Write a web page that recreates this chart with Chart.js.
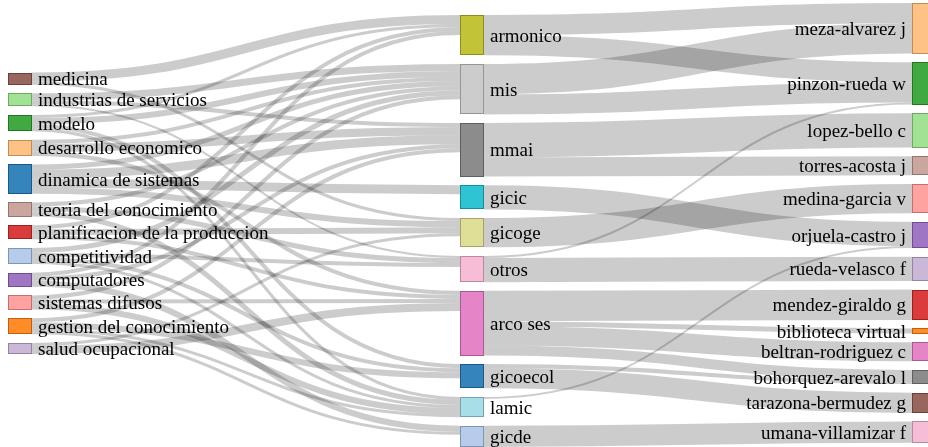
<!DOCTYPE html>
<html>
<head>
<meta charset="utf-8">
<script src="https://cdn.jsdelivr.net/npm/chart.js@4.4.1/dist/chart.umd.min.js"></script>
<style>
  html,body{margin:0;padding:0;background:#fff;}
  #wrap{width:928px;height:447px;overflow:hidden;}
</style>
</head>
<body>
<div id="wrap"><canvas id="sankey" width="928" height="447"></canvas></div>
<script>
/*
  sankey temas -> grupos -> autores
  dibujado con un plugin sobre las escalas de Chart.js
*/

// nodos por columna (en el orden de la figura)
const temas = ["medicina","industrias de servicios","modelo","desarrollo economico","dinamica de sistemas",
  "teoria del conocimiento","planificacion de la produccion","competitividad","computadores",
  "sistemas difusos","gestion del conocimiento","salud ocupacional"];
const grupos = ["armonico","mis","mmai","gicic","gicoge","otros","arco ses","gicoecol","lamic","gicde"];
const autores = ["meza-alvarez j","pinzon-rueda w","lopez-bello c","torres-acosta j","medina-garcia v",
  "orjuela-castro j","rueda-velasco f","mendez-giraldo g","biblioteca virtual","beltran-rodriguez c",
  "bohorquez-arevalo l","tarazona-bermudez g","umana-villamizar f"];

// flujos [origen, destino, valor]
const temaGrupo = [
  ["medicina","armonico",9],["medicina","gicoge",3],
  ["industrias de servicios","mis",7],["industrias de servicios","mmai",4],["industrias de servicios","otros",2],
  ["modelo","mis",6],["modelo","armonico",3],["modelo","gicoecol",4],["modelo","lamic",3],
  ["desarrollo economico","mmai",8],["desarrollo economico","mis",4],["desarrollo economico","arco ses",4],
  ["dinamica de sistemas","mmai",9],["dinamica de sistemas","gicic",9],["dinamica de sistemas","gicoge",6],["dinamica de sistemas","mis",5],
  ["teoria del conocimiento","mis",4],["teoria del conocimiento","otros",5],["teoria del conocimiento","lamic",5],
  ["planificacion de la produccion","armonico",4],["planificacion de la produccion","gicoge",6],["planificacion de la produccion","arco ses",4],
  ["competitividad","mis",5],["competitividad","otros",4],["competitividad","gicoecol",4],["competitividad","lamic",3],
  ["computadores","armonico",4],["computadores","mmai",4],["computadores","gicde",6],
  ["sistemas difusos","mis",4],["sistemas difusos","arco ses",4],["sistemas difusos","lamic",6],
  ["gestion del conocimiento","mmai",4],["gestion del conocimiento","gicoecol",6],["gestion del conocimiento","lamic",3],["gestion del conocimiento","gicde",3],
  ["salud ocupacional","arco ses",8],["salud ocupacional","gicoge",3]
];
const grupoAutor = [
  ["armonico","meza-alvarez j",20],["armonico","pinzon-rueda w",20],
  ["mis","meza-alvarez j",30],["mis","pinzon-rueda w",20],
  ["mmai","lopez-bello c",34],["mmai","torres-acosta j",19],
  ["gicic","orjuela-castro j",24],
  ["gicoge","medina-garcia v",29],
  ["otros","rueda-velasco f",24],["otros","pinzon-rueda w",2],
  ["arco ses","mendez-giraldo g",30],["arco ses","biblioteca virtual",5],["arco ses","beltran-rodriguez c",19],["arco ses","bohorquez-arevalo l",10],
  ["gicoecol","bohorquez-arevalo l",4],["gicoecol","tarazona-bermudez g",20],
  ["lamic","orjuela-castro j",2],
  ["gicde","umana-villamizar f",21]
];

// colores (category20)
const coloresTemas = ["#8c564b","#98df8a","#2ca02c","#ffbb78","#1f77b4","#c49c94","#d62728","#aec7e8","#9467bd","#ff9896","#ff7f0e","#c5b0d5"];
const coloresGrupos = ["#bcbd22","#c7c7c7","#7f7f7f","#17becf","#dbdb8d","#f7b6d2","#e377c2","#1f77b4","#9edae5","#aec7e8"];
const coloresAutores = ["#ffbb78","#2ca02c","#98df8a","#c49c94","#ff9896","#9467bd","#c5b0d5","#d62728","#ff7f0e","#e377c2","#7f7f7f","#8c564b","#f7b6d2"];

const NODE_W = 24;     // px
const PAD = 8.5;       // separacion entre nodos (unidades de valor)
const FONT = '19px "Liberation Serif", "Times New Roman", serif';

const center = n => (n.y0 + n.y1) / 2;

function stack(c, y){
  c.forEach(n=>{ n.y0 = y; n.y1 = y + n.value; y = n.y1 + PAD; });
}

function linkOffsets(nodos){
  nodos.forEach(n=>{
    n.src.sort((a,b)=>a.t.y0-b.t.y0);
    let o = n.y0;
    n.src.forEach(l=>{ l.sy = o; o += l.v; });
    n.tgt.sort((a,b)=>a.s.y0-b.s.y0);
    o = n.y0;
    n.tgt.forEach(l=>{ l.ty = o; o += l.v; });
  });
}

function layout(){
  const columnas = [temas, grupos, autores];
  const colores = [coloresTemas, coloresGrupos, coloresAutores];
  const nodos = new Map();
  columnas.forEach((nombres,col)=>{
    nombres.forEach((n,i)=>nodos.set(n,{name:n,col,color:colores[col][i],inV:0,outV:0,src:[],tgt:[]}));
  });
  const links = temaGrupo.concat(grupoAutor).map(([s,t,v])=>{
    const a = nodos.get(s), b = nodos.get(t);
    const l = {s:a,t:b,v};
    a.outV += v; b.inV += v;
    a.src.push(l); b.tgt.push(l);
    return l;
  });
  nodos.forEach(n=>n.value = Math.max(n.inV,n.outV));

  const cols = columnas.map(nombres=>nombres.map(n=>nodos.get(n)));
  const spans = cols.map(c=>c.reduce((acc,n)=>acc+n.value,0) + (c.length-1)*PAD);
  const total = Math.max(...spans);
  const yMax = total + PAD/2;

  // autores arriba, grupos apoyados abajo
  stack(cols[2], 0);
  stack(cols[1], yMax - spans[1]);
  stack(cols[0], 0);
  linkOffsets(nodos);

  // temas: desplazar el bloque para que los enlaces queden rectos en promedio
  let w = 0, d = 0;
  links.filter(l=>l.s.col === 0).forEach(l=>{ w += l.v; d += l.v*(l.ty - l.sy); });
  const shift = Math.min(Math.max(d/w, 0), yMax - spans[0]);
  stack(cols[0], shift);
  linkOffsets(nodos);

  return {nodes:[...nodos.values()], links, yMax};
}

const LAYOUT = layout();

function darker(hex,k){
  const r = parseInt(hex.slice(1,3),16), g = parseInt(hex.slice(3,5),16), b = parseInt(hex.slice(5,7),16);
  return `rgb(${Math.round(r*k)},${Math.round(g*k)},${Math.round(b*k)})`;
}
function withAlpha(hex,a){
  const r = parseInt(hex.slice(1,3),16), g = parseInt(hex.slice(3,5),16), b = parseInt(hex.slice(5,7),16);
  return `rgba(${r},${g},${b},${a})`;
}

const sankeyPlugin = {
  id:"sankey",
  afterDatasetsDraw(chart){
    const {ctx} = chart;
    const xs = chart.scales.x, ys = chart.scales.y;
    const py = v => ys.getPixelForValue(v);
    const unit = Math.abs(py(1) - py(0));

    ctx.save();
    // enlaces
    ctx.strokeStyle = "rgba(0,0,0,0.2)";
    LAYOUT.links.forEach(l=>{
      const x0 = xs.getPixelForValue(l.s.col) + NODE_W;
      const x1 = xs.getPixelForValue(l.t.col);
      const xm = (x0 + x1) / 2;
      const y0 = py(l.sy + l.v/2);
      const y1 = py(l.ty + l.v/2);
      ctx.lineWidth = Math.max(1, l.v*unit);
      ctx.beginPath();
      ctx.moveTo(x0,y0);
      ctx.bezierCurveTo(xm,y0,xm,y1,x1,y1);
      ctx.stroke();
    });

    // nodos
    LAYOUT.nodes.forEach(n=>{
      const x = Math.round(xs.getPixelForValue(n.col));
      const top = Math.round(py(n.y0));
      const h = Math.max(1, Math.round(py(n.y1)) - top);
      ctx.fillStyle = withAlpha(n.color,0.9);
      ctx.fillRect(x,top,NODE_W,h);
      ctx.strokeStyle = darker(n.color,0.75);
      ctx.lineWidth = 1;
      ctx.strokeRect(x+0.5,top+0.5,NODE_W-1,h-1);
    });

    // etiquetas
    ctx.font = FONT;
    ctx.fillStyle = "#000";
    ctx.textBaseline = "alphabetic";
    LAYOUT.nodes.forEach(n=>{
      const x = xs.getPixelForValue(n.col);
      const yc = py(center(n)) + 19*0.35;
      if(n.col === 2){
        ctx.textAlign = "right";
        ctx.fillText(n.name, x - 6, yc);
      }else{
        ctx.textAlign = "left";
        ctx.fillText(n.name, x + NODE_W + 6, yc);
      }
    });
    ctx.restore();
  }
};

new Chart(document.getElementById("sankey"),{
  type:"scatter",
  data:{
    datasets:[{
      data:LAYOUT.nodes.map(n=>({x:n.col, y:center(n)})),
      pointRadius:0,
      pointHoverRadius:0
    }]
  },
  options:{
    responsive:false,
    animation:false,
    devicePixelRatio:1,
    layout:{padding:{left:8,right:16,top:3,bottom:0}},
    plugins:{legend:{display:false},tooltip:{enabled:false}},
    events:[],
    scales:{
      x:{type:"linear",min:0,max:2,display:false},
      y:{type:"linear",min:0,max:LAYOUT.yMax,reverse:true,display:false}
    }
  },
  plugins:[sankeyPlugin]
});
</script>
</body>
</html>
